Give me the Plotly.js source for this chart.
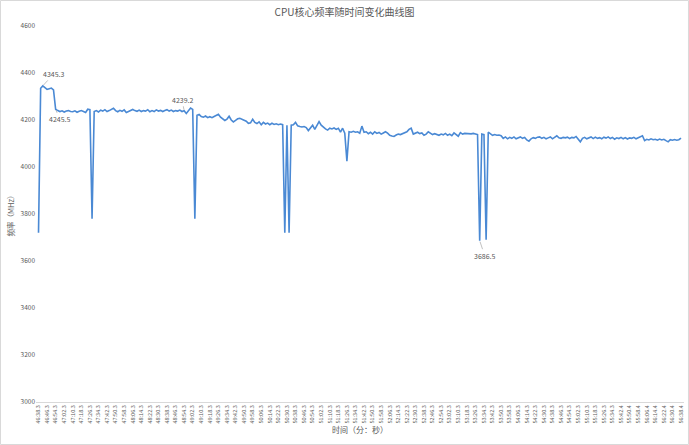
<!DOCTYPE html>
<html>
<head>
<meta charset="utf-8">
<script src="https://cdn.plot.ly/plotly-3.0.1.min.js"></script>
<style>html,body{margin:0;padding:0;background:#fff;}#chart{width:689px;height:445px;}</style>
</head>
<body>
<div id="chart"></div>
<script>
// Frequency samples (MHz), one every ~2 s from 46:38.3 to 56:38.4
const freqMHz = [
  3720,4335,4345.3,4338,4330,4333,4336,4328,4245.5,4240,
  4236,4239,4234,4238,4240,4236,4235,4239,4233,4237,
  4240,4236,4232,4246,4244,3780,4236,4240,4234,4242,
  4238,4244,4236,4240,4246,4250,4240,4235,4241,4237,
  4243,4232,4236,4240,4245,4240,4237,4242,4236,4240,
  4238,4244,4235,4240,4236,4243,4238,4241,4236,4240,
  4244,4238,4242,4236,4240,4238,4242,4236,4239.2,4228,
  4238,4251,4245,3780,4220,4224,4215,4212,4217,4210,
  4214,4210,4215,4220,4224,4212,4205,4198,4204,4216,
  4200,4192,4198,4205,4207,4203,4200,4195,4186,4188,
  4203,4190,4185,4192,4180,4190,4183,4187,4180,4186,
  4181,4184,4180,4183,4180,3720,4178,3720,4178,4180,
  4190,4175,4172,4170,4172,4168,4155,4168,4178,4160,
  4175,4193,4178,4168,4162,4157,4165,4162,4166,4160,
  4165,4148,4165,4144,4025,4150,4148,4152,4148,4150,
  4144,4174,4148,4150,4142,4148,4140,4150,4143,4147,
  4140,4145,4150,4144,4135,4132,4130,4136,4140,4138,
  4141,4145,4150,4160,4165,4140,4145,4148,4142,4145,
  4135,4140,4150,4143,4138,4142,4140,4135,4140,4137,
  4143,4135,4140,4133,4145,4138,4131,4146,4140,4143,
  4142,4144,4141,4143,4142,4138,3686.5,4140,4138,3690,
  4148,4140,4135,4138,4135,4136,4133,4122,4128,4120,
  4126,4122,4128,4120,4125,4128,4122,4126,4115,4110,
  4120,4125,4122,4127,4128,4122,4126,4120,4124,4128,
  4120,4126,4133,4124,4122,4126,4124,4127,4121,4126,
  4124,4130,4118,4107,4122,4126,4120,4124,4128,4121,
  4127,4122,4125,4120,4127,4123,4128,4121,4126,4118,
  4124,4121,4126,4120,4125,4119,4124,4122,4126,4120,
  4125,4128,4133,4112,4118,4115,4120,4116,4118,4114,
  4119,4115,4118,4112,4107,4116,4114,4117,4114,4116,
  4123
];

// Category tick labels (every 4th sample)
const timeLabels = [
  "46:38.3","46:46.3","46:54.3","47:02.3","47:10.3","47:18.3","47:26.3","47:34.3","47:42.3","47:50.3",
  "47:58.3","48:06.3","48:14.3","48:22.3","48:30.3","48:38.3","48:46.3","48:54.3","49:02.3","49:10.3",
  "49:18.3","49:26.3","49:34.3","49:42.3","49:50.3","49:58.3","50:06.3","50:14.3","50:22.3","50:30.3",
  "50:38.3","50:46.3","50:54.3","51:02.3","51:10.3","51:18.3","51:26.3","51:34.3","51:42.3","51:50.3",
  "51:58.3","52:06.3","52:14.3","52:22.3","52:30.3","52:38.3","52:46.3","52:54.3","53:02.3","53:10.3",
  "53:18.3","53:26.3","53:34.3","53:42.3","53:50.3","53:58.3","54:06.3","54:14.3","54:22.3","54:30.3",
  "54:38.3","54:46.3","54:54.3","55:02.3","55:10.3","55:18.3","55:26.3","55:34.3","55:42.4","55:50.4",
  "55:58.4","56:06.4","56:14.4","56:22.4","56:30.4","56:38.4"
];
const labelStep = 4;

// Labelled points (sample index)
const labelledIdx = [2, 8, 68, 206];
const labelOffsets = [[11,-12],[4,10],[-2,-11],[5,15]];

const FONT = '"Noto Sans CJK SC", "Noto Sans", sans-serif';
const GREY = '#595959';

const trace = {
  y: freqMHz,
  type: 'scatter',
  mode: 'lines',
  line: {color: '#4a89d4', width: 1.6},
  hoverinfo: 'y'
};

const annotations = labelledIdx.map((idx, k) => ({
  x: idx, y: freqMHz[idx], xref: 'x', yref: 'y',
  text: String(freqMHz[idx].toFixed(1)),
  showarrow: true, arrowhead: 0, arrowwidth: 0.7, arrowcolor: '#a6a6a6',
  ax: labelOffsets[k][0], ay: labelOffsets[k][1], standoff: 1,
  font: {family: FONT, size: 7, color: GREY}
}));

const layout = {
  width: 689, height: 445,
  margin: {l: 36, r: 5, t: 26, b: 43, pad: 0},
  paper_bgcolor: '#ffffff', plot_bgcolor: '#ffffff',
  font: {family: FONT, color: GREY},
  showlegend: false,
  title: {text: 'CPU核心频率随时间变化曲线图', font: {family: FONT, size: 10, color: GREY},
          x: 0.5, xanchor: 'center', y: 0.972, yanchor: 'middle'},
  xaxis: {
    range: [-1.17, 301.4],
    tickmode: 'array',
    tickvals: timeLabels.map((_, k) => k * labelStep),
    ticktext: timeLabels,
    tickangle: -90,
    tickfont: {family: FONT, size: 5.5, color: GREY},
    showgrid: false, zeroline: false,
    showline: true, linecolor: '#d9d9d9', linewidth: 1,
    ticks: '',
    title: {text: '时间（分：秒）', font: {family: FONT, size: 8, color: GREY}, standoff: 2}
  },
  yaxis: {
    range: [3000, 4600],
    tickvals: [3000, 3200, 3400, 3600, 3800, 4000, 4200, 4400, 4600],
    tickfont: {family: FONT, size: 6.5, color: GREY},
    showgrid: false, zeroline: false, showline: false, ticks: '',
    title: {text: '频率（MHz）', font: {family: FONT, size: 7.5, color: GREY}, standoff: 4}
  },
  annotations: annotations,
  shapes: [{
    type: 'rect', xref: 'paper', yref: 'paper',
    x0: -0.0548, x1: 1.0069, y0: -0.113, y1: 1.0678,
    line: {color: '#d9d9d9', width: 1}, fillcolor: 'rgba(0,0,0,0)', layer: 'below'
  }]
};

Plotly.newPlot('chart', [trace], layout, {displayModeBar: false, staticPlot: true});
</script>
</body>
</html>
